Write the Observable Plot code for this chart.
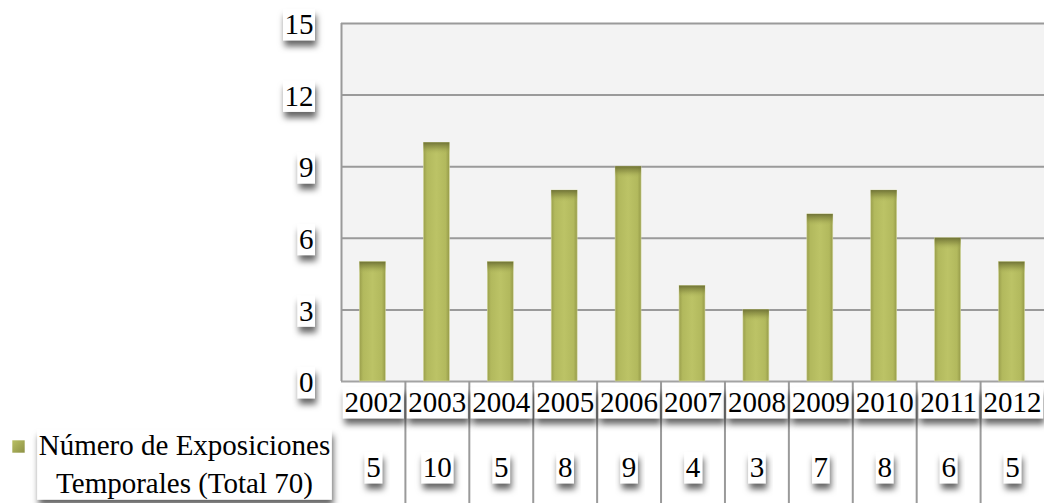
<!DOCTYPE html>
<html><head><meta charset="utf-8">
<script src="https://cdn.jsdelivr.net/npm/d3@7"></script>
<script src="https://cdn.jsdelivr.net/npm/@observablehq/plot@0.6"></script>
<style>html,body{margin:0;padding:0;background:#fff;overflow:hidden} svg{display:block}</style>
</head><body><div id="chart"></div>
<script>
const years = ["2002","2003","2004","2005","2006","2007","2008","2009","2010","2011","2012"];
const values = [5,10,5,8,9,4,3,7,8,6,5];
const yTicks = [0,3,6,9,12,15];
const seriesLabel = ["Número de Exposiciones", "Temporales (Total 70)"];

const data = years.map((year, i) => ({year, value: values[i]}));

const W = 1044, H = 503, mL = 341, mR = 0, mT = 23, mB = 122;
const band = (W - mL - mR) / years.length;
const serif = "Liberation Serif";
const fs = 29;
const txt = {fontFamily: serif, fontSize: fs, fill: "#000", lineAnchor: "middle"};

const chart = Plot.plot({
  width: W, height: H,
  marginLeft: mL, marginRight: mR, marginTop: mT, marginBottom: mB,
  style: {fontFamily: serif, fontSize: "29px", color: "#000", background: "#fff", overflow: "visible"},
  x: {domain: years, padding: 0, round: false, axis: null},
  y: {domain: [0, 15], axis: null},
  marks: [
    Plot.frame({fill: "#f3f3f3", stroke: "none"}),
    Plot.ruleY(yTicks.filter(t => t > 0), {y: d => d, stroke: "#9a9a9a", strokeWidth: 2}),
    Plot.ruleY([0], {y: d => d, stroke: "#a3a3a3", strokeWidth: 2}),
    Plot.ruleX([years[0]], {x: d => d, dx: -band / 2, y1: 0, y2: 15, stroke: "#9a9a9a", strokeWidth: 2}),
    Plot.ruleX(years.slice(1), {x: d => d, dx: -band / 2, y1: 0, y2: -5.3, stroke: "#9a9a9a", strokeWidth: 2}),
    Plot.barY(data, {x: "year", y: "value", fill: "url(#barGrad)", insetLeft: 18.5, insetRight: 19.5, stroke: "#d3d79c", strokeWidth: 0.6}),
    Plot.barY(data, {x: "year", y1: d => d.value - 0.5, y2: "value", fill: "url(#capGrad)", insetLeft: 18.5, insetRight: 19.5}),
    Plot.text(yTicks, {...txt, y: d => d, text: d => String(d), frameAnchor: "left", dx: -28, dy: 1.5, textAnchor: "end"}),
    Plot.text(data, {...txt, x: "year", text: "year", frameAnchor: "bottom", dy: 21.5}),
    Plot.text(data, {...txt, x: "year", text: d => String(d.value), frameAnchor: "bottom", dy: 86.5}),
    Plot.text([seriesLabel.join("\n")], {...txt, text: d => d, frameAnchor: "bottom-left", dx: 184 - mL, dy: 461 - (H - mB), textAnchor: "middle", lineHeight: 1.31}),
    Plot.dot([seriesLabel[0]], {frameAnchor: "bottom-left", dx: 18 - mL, dy: 446 - (H - mB), symbol: "square", r: 7, fill: "url(#swGrad)", stroke: "none"})
  ]
});

document.getElementById("chart").append(chart);
chart.insertAdjacentHTML("afterbegin", `<defs>
  <linearGradient id="barGrad" x1="0" x2="1" y1="0" y2="0">
    <stop offset="0" stop-color="#9a9f4c"/>
    <stop offset="0.14" stop-color="#b2b95d"/>
    <stop offset="0.5" stop-color="#bcc366"/>
    <stop offset="0.86" stop-color="#b2b95d"/>
    <stop offset="1" stop-color="#969b49"/>
  </linearGradient>
  <linearGradient id="capGrad" x1="0" x2="0" y1="0" y2="1">
    <stop offset="0" stop-color="#6c6f34" stop-opacity="0.95"/>
    <stop offset="0.45" stop-color="#888c42" stop-opacity="0.6"/>
    <stop offset="1" stop-color="#b2b95d" stop-opacity="0"/>
  </linearGradient>
  <linearGradient id="swGrad" x1="0" x2="1" y1="0" y2="1">
    <stop offset="0" stop-color="#b9c064"/>
    <stop offset="1" stop-color="#8d9145"/>
  </linearGradient>
  <filter id="sh" x="-30%" y="-30%" width="170%" height="220%">
    <feDropShadow dx="1.5" dy="6" stdDeviation="3" flood-color="#000" flood-opacity="0.6"/>
  </filter>
</defs>`);

// white label boxes with soft shadow behind every text
chart.querySelectorAll('g[aria-label="text"] text').forEach(t => {
  const b = t.getBBox();
  const r = document.createElementNS("http://www.w3.org/2000/svg", "rect");
  r.setAttribute("x", b.x - 1.5);
  r.setAttribute("y", b.y + 1);
  r.setAttribute("width", b.width + 3);
  r.setAttribute("height", b.height - 1);
  r.setAttribute("fill", "#fff");
  r.setAttribute("filter", "url(#sh)");
  const tr = t.getAttribute("transform");
  if (tr) r.setAttribute("transform", tr);
  t.parentNode.insertBefore(r, t);
});
</script>
</body></html>
